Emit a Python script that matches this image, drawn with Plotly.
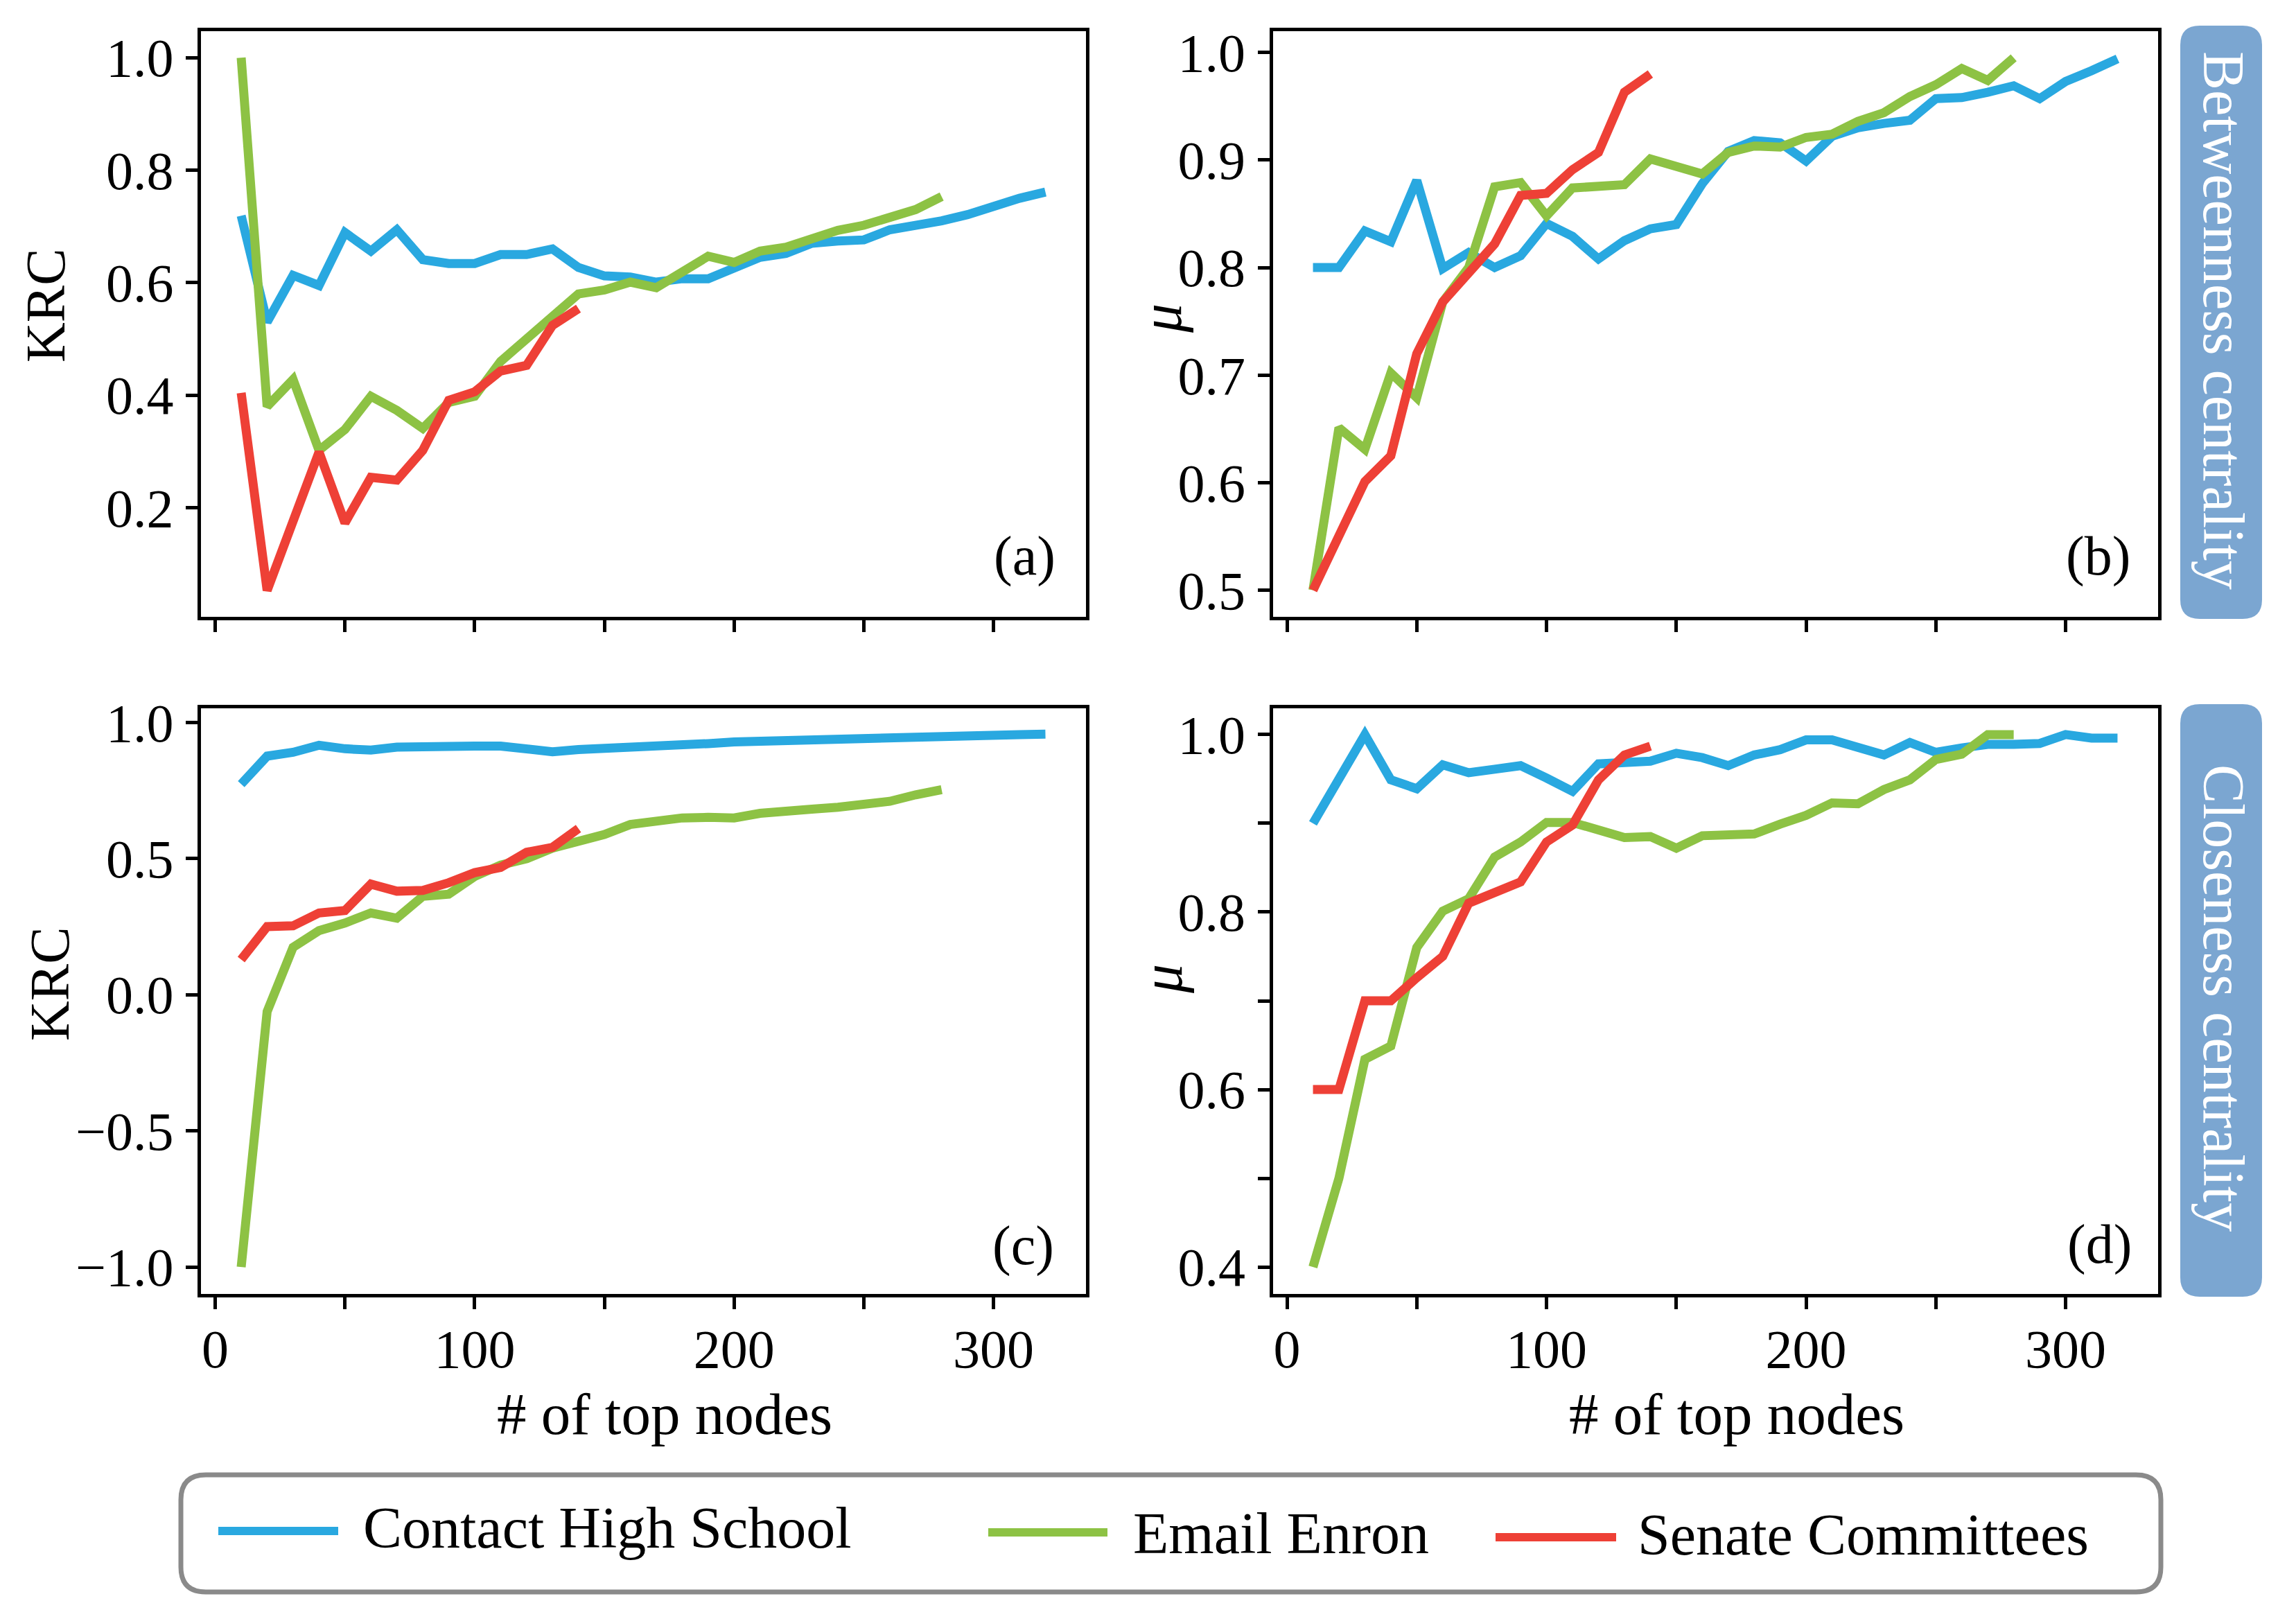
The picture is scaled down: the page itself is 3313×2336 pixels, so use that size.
import plotly.graph_objects as go

# ---------------- data ----------------
hs_nodes = list(range(10, 330, 10))      # Contact High School
enron_nodes = list(range(10, 290, 10))   # Email Enron
senate_nodes = list(range(10, 150, 10))  # Senate Committees

hs_krc_btw = [0.719, 0.530, 0.613, 0.595, 0.689, 0.656, 0.694, 0.641, 0.634, 0.634, 0.650, 0.650,
              0.660, 0.627, 0.612, 0.610, 0.601, 0.607, 0.607, 0.624, 0.645, 0.652, 0.670, 0.674,
              0.676, 0.694, 0.701, 0.710, 0.721, 0.737, 0.750, 0.761]
enron_krc_btw = [1.0, 0.380, 0.428, 0.302, 0.339, 0.398, 0.373, 0.341, 0.387, 0.398, 0.460, 0.499,
                 0.543, 0.580, 0.587, 0.601, 0.591, 0.621, 0.647, 0.636, 0.656, 0.663, 0.678, 0.693,
                 0.702, 0.717, 0.730, 0.753]
senate_krc_btw = [0.404, 0.053, 0.176, 0.299, 0.173, 0.254, 0.249, 0.302, 0.391, 0.406, 0.443, 0.453,
                  0.524, 0.554]

hs_mu_btw = [0.800, 0.800, 0.834, 0.824, 0.881, 0.799, 0.814, 0.800, 0.811, 0.841, 0.829, 0.808,
             0.825, 0.836, 0.840, 0.878, 0.908, 0.918, 0.916, 0.899, 0.922, 0.930, 0.934, 0.937,
             0.957, 0.958, 0.963, 0.969, 0.957, 0.973, 0.983, 0.994]
enron_mu_btw = [0.500, 0.651, 0.631, 0.702, 0.679, 0.768, 0.800, 0.875, 0.879, 0.848, 0.874, 0.876,
                0.877, 0.901, 0.894, 0.887, 0.907, 0.913, 0.912, 0.921, 0.924, 0.936, 0.944, 0.959,
                0.970, 0.985, 0.974, 0.995]
senate_mu_btw = [0.500, 0.550, 0.601, 0.625, 0.720, 0.768, 0.794, 0.822, 0.867, 0.869, 0.891, 0.907,
                 0.963, 0.980]

hs_krc_clo = [0.773, 0.876, 0.890, 0.916, 0.903, 0.898, 0.909, 0.913, 0.909, 0.913, 0.913, 0.905,
              0.892, 0.900, 0.903, 0.909, 0.913, 0.918, 0.922, 0.928, 0.931, 0.935, 0.939, 0.942,
              0.944, 0.946, 0.948, 0.950, 0.952, 0.954, 0.955, 0.957]
enron_krc_clo = [-1.0, -0.062, 0.174, 0.235, 0.263, 0.300, 0.281, 0.361, 0.369, 0.434, 0.476, 0.499,
                 0.538, 0.564, 0.588, 0.625, 0.640, 0.649, 0.651, 0.649, 0.666, 0.677, 0.681, 0.688,
                 0.703, 0.710, 0.734, 0.753]
senate_krc_clo = [0.129, 0.250, 0.253, 0.300, 0.309, 0.406, 0.380, 0.383, 0.411, 0.448, 0.467, 0.523,
                  0.541, 0.610]

hs_mu_clo = [0.900, 0.949, 1.0, 0.949, 0.939, 0.966, 0.957, 0.961, 0.965, 0.951, 0.936, 0.967,
             0.968, 0.970, 0.979, 0.974, 0.965, 0.977, 0.983, 0.994, 0.994, 0.986, 0.977, 0.991,
             0.980, 0.985, 0.989, 0.989, 0.990, 1.0, 0.996, 0.996]
enron_mu_clo = [0.400, 0.500, 0.634, 0.649, 0.760, 0.801, 0.815, 0.862, 0.879, 0.901, 0.901, 0.892,
                0.884, 0.885, 0.872, 0.886, 0.888, 0.888, 0.899, 0.909, 0.923, 0.922, 0.938, 0.949,
                0.972, 0.978, 1.0, 1.0]
senate_mu_clo = [0.600, 0.600, 0.700, 0.700, 0.726, 0.750, 0.810, 0.822, 0.834, 0.879, 0.898, 0.949,
                 0.977, 0.987]

series_names = ["Contact High School", "Email Enron", "Senate Committees"]
x_tickvals = [0, 50, 100, 150, 200, 250, 300]
x_ticktext = ["0", "", "100", "", "200", "", "300"]
panel_labels = ["(a)", "(b)", "(c)", "(d)"]
row_labels = ["Betweenness centrality", "Closeness centrality"]

# ---------------- style ----------------
W, H = 3313, 2336
FONT = "Liberation Serif"
COLORS = ["#29A8E0", "#8DC244", "#EE4036"]
LW = 13


def px(x):
    return x / W


def py(y):
    return 1 - y / H


fig = go.Figure()

panels = [
    ("x", "y", [hs_krc_btw, enron_krc_btw, senate_krc_btw]),
    ("x2", "y2", [hs_mu_btw, enron_mu_btw, senate_mu_btw]),
    ("x3", "y3", [hs_krc_clo, enron_krc_clo, senate_krc_clo]),
    ("x4", "y4", [hs_mu_clo, enron_mu_clo, senate_mu_clo]),
]
xs = [hs_nodes, enron_nodes, senate_nodes]

for xa, ya, data in panels:
    for i, (xx, yy) in enumerate(zip(xs, data)):
        fig.add_trace(go.Scatter(
            x=xx, y=yy, mode="lines", name=series_names[i],
            line=dict(color=COLORS[i], width=LW),
            xaxis=xa, yaxis=ya, showlegend=False,
        ))

# axes geometry (pixel boxes)
b = 2.5
left_col = [px(287.5 + b), px(1569 - b)]
right_col = [px(1834 + b), px(3116 - b)]
top_row = [py(892.5 - b), py(42.5 + b)]
bot_row = [py(1869 - b), py(1019 + b)]

tickfont = dict(family=FONT, size=78, color="black")
common_x = dict(range=[-5.5, 335.5], tickvals=x_tickvals, showgrid=False, zeroline=False,
                showline=True, linecolor="black", linewidth=5, mirror=True,
                ticks="outside", ticklen=17, tickwidth=4.5, tickcolor="black",
                tickfont=tickfont, ticklabelstandoff=-9, automargin=False)
common_y = dict(showgrid=False, zeroline=False, showline=True, linecolor="black", linewidth=5,
                mirror=True, ticks="outside", ticklen=17, tickwidth=4.5, tickcolor="black",
                tickfont=tickfont, ticklabelstandoff=2, automargin=False)

fig.update_layout(
    template="none",
    width=W, height=H, margin=dict(l=0, r=0, t=0, b=0, pad=0),
    paper_bgcolor="white", plot_bgcolor="white", showlegend=False,
    xaxis=dict(domain=left_col, anchor="y", ticktext=[""] * 7, **common_x),
    xaxis2=dict(domain=right_col, anchor="y2", ticktext=[""] * 7, **common_x),
    xaxis3=dict(domain=left_col, anchor="y3", ticktext=x_ticktext, **common_x),
    xaxis4=dict(domain=right_col, anchor="y4", ticktext=x_ticktext, **common_x),
    yaxis=dict(domain=top_row, anchor="x", range=[0.006, 1.047],
               tickvals=[0.2, 0.4, 0.6, 0.8, 1.0], ticktext=["0.2", "0.4", "0.6", "0.8", "1.0"], **common_y),
    yaxis2=dict(domain=top_row, anchor="x2", range=[0.47525, 1.01975],
                tickvals=[0.5, 0.6, 0.7, 0.8, 0.9, 1.0], ticktext=["0.5", "0.6", "0.7", "0.8", "0.9", "1.0"], **common_y),
    yaxis3=dict(domain=bot_row, anchor="x3", range=[-1.0978, 1.0528],
                tickvals=[-1.0, -0.5, 0.0, 0.5, 1.0], ticktext=["\u22121.0", "\u22120.5", "0.0", "0.5", "1.0"], **common_y),
    yaxis4=dict(domain=bot_row, anchor="x4", range=[0.37, 1.03],
                tickvals=[0.4, 0.5, 0.6, 0.7, 0.8, 0.9, 1.0], ticktext=["0.4", "", "0.6", "", "0.8", "", "1.0"], **common_y),
)

ann = []


def text(x, y, s, size, angle=0, color="black", xanchor="center"):
    ann.append(dict(x=px(x), y=py(y), xref="paper", yref="paper", text=s, showarrow=False,
                    textangle=angle, xanchor=xanchor, yanchor="middle",
                    font=dict(family=FONT, size=size, color=color)))


# axis titles
text(66, 441, "KRC", 80, angle=-90)
text(72, 1420, "KRC", 80, angle=-90)
text(1676, 460, "<i>\u03bc</i>", 84, angle=-90)
text(1676, 1413, "<i>\u03bc</i>", 84, angle=-90)
text(959, 2040, "# of top nodes", 85)
text(2506, 2040, "# of top nodes", 85)

# panel labels
text(1478, 802, panel_labels[0], 80)
text(3027, 802, panel_labels[1], 80)
text(1476, 1797, panel_labels[2], 80)
text(3029, 1795, panel_labels[3], 80)

# row labels on the side boxes
text(3209, 462, row_labels[0], 84, angle=90, color="white")
text(3209, 1440, row_labels[1], 84, angle=90, color="white")

# legend texts
text(522, 2204, series_names[0], 84, xanchor="left")
text(1633, 2212, series_names[1], 84, xanchor="left")
text(2361, 2214, series_names[2], 84, xanchor="left")

fig.update_layout(annotations=ann)


def rrect(x0, y0, x1, y1, r):
    pts = [
        ("M", (x0 + r, y0)), ("L", (x1 - r, y0)), ("Q", (x1, y0), (x1, y0 + r)),
        ("L", (x1, y1 - r)), ("Q", (x1, y1), (x1 - r, y1)), ("L", (x0 + r, y1)),
        ("Q", (x0, y1), (x0, y1 - r)), ("L", (x0, y0 + r)), ("Q", (x0, y0), (x0 + r, y0)),
    ]
    s = ""
    for p in pts:
        coords = " ".join(f"{px(a):.6f},{py(c):.6f}" for a, c in p[1:])
        s += f"{p[0]} {coords} "
    return s + "Z"


shapes = []
# side boxes
for y0, y1 in [(37, 893), (1016, 1871)]:
    shapes.append(dict(type="path", path=rrect(3146, y0, 3264, y1, 28), xref="paper", yref="paper",
                       fillcolor="#7BA6D1", line=dict(width=0), layer="below"))
# legend frame
shapes.append(dict(type="path", path=rrect(261, 2128, 3118, 2297, 36), xref="paper", yref="paper",
                   fillcolor="white", line=dict(color="#8A8A8A", width=7), layer="below"))
# legend line samples
for (x0, x1, yy), c in zip([(315, 488, 2209), (1426, 1598, 2211), (2158, 2332, 2218)], COLORS):
    shapes.append(dict(type="line", x0=px(x0), x1=px(x1), y0=py(yy), y1=py(yy), xref="paper",
                       yref="paper", line=dict(color=c, width=12)))
fig.update_layout(shapes=shapes)

fig.write_html("out.html", config={"displayModeBar": False},
               post_script="document.body.style.margin='0';document.body.style.overflow='hidden';")
